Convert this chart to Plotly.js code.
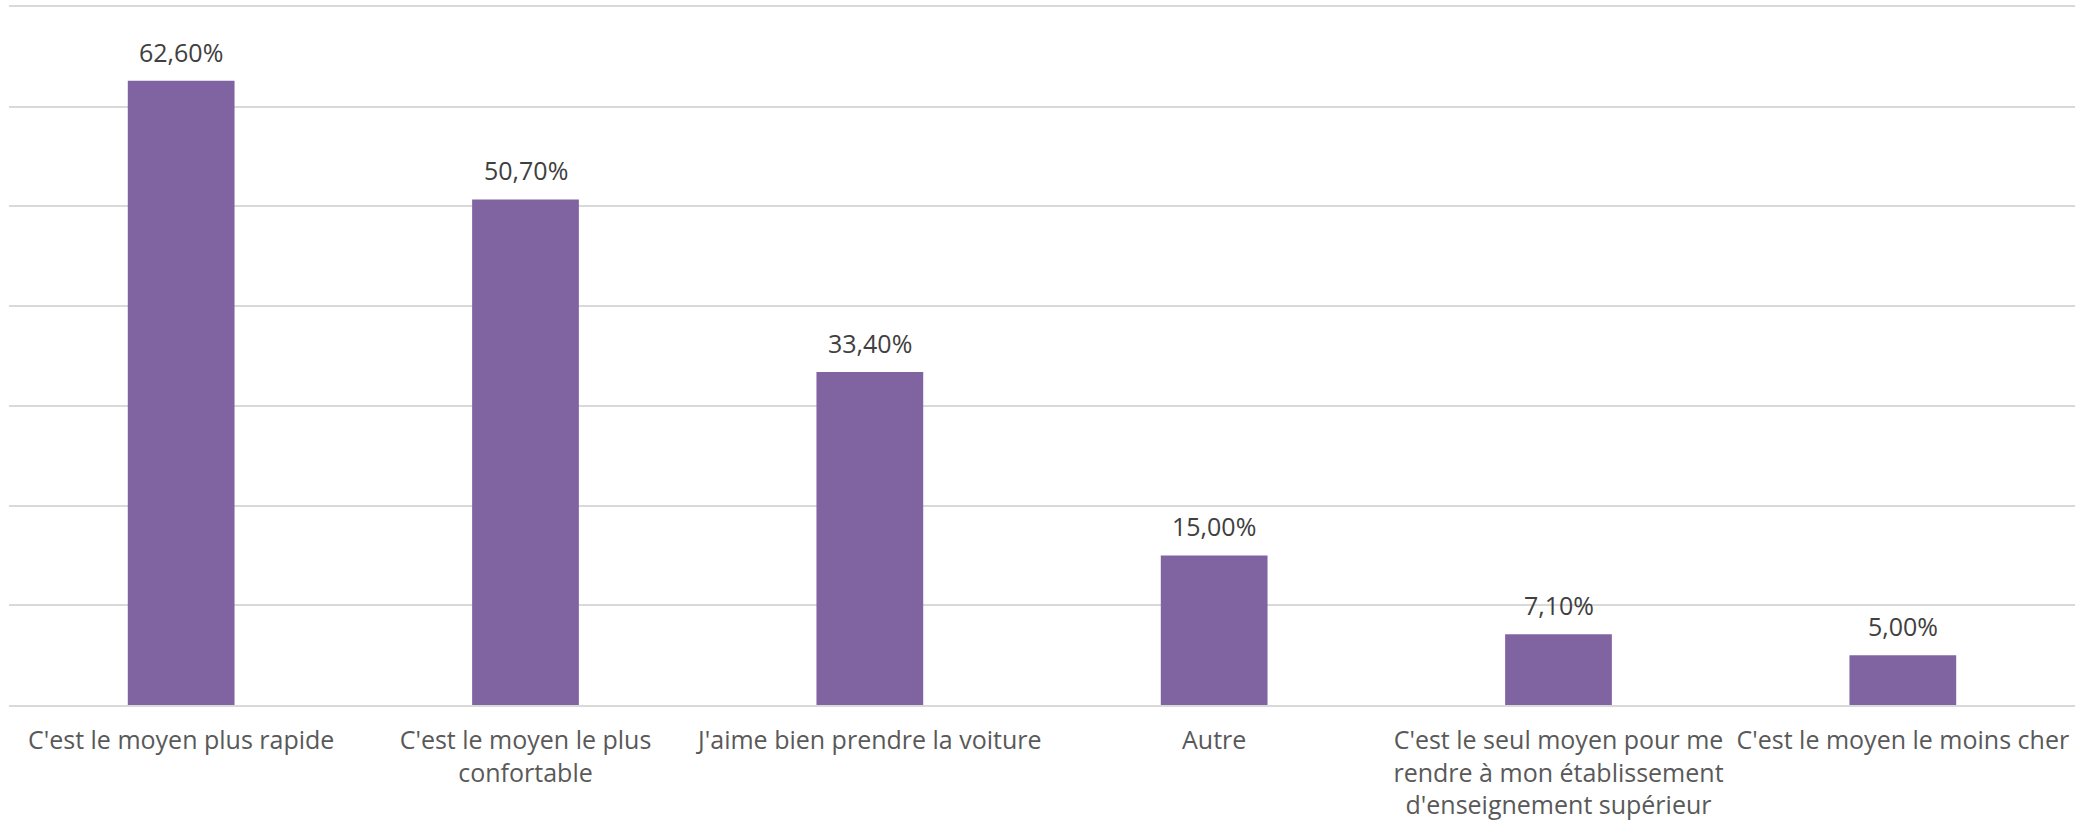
<!DOCTYPE html>
<html>
<head>
<meta charset="utf-8">
<script src="https://cdn.plot.ly/plotly-3.0.1.min.js"></script>
<style>html,body{margin:0;padding:0;background:#fff;}#chart{width:2091px;height:824px;}</style>
</head>
<body>
<div id="chart"></div>
<script>
const categories = [
  "C'est le moyen plus rapide",
  "C'est le moyen le plus<br>confortable",
  "J'aime bien prendre la voiture",
  "Autre",
  "C'est le seul moyen pour me<br>rendre à mon établissement<br>d'enseignement supérieur",
  "C'est le moyen le moins cher"
];
const values = [62.6, 50.7, 33.4, 15.0, 7.1, 5.0];
const valueLabels = ["62,60%", "50,70%", "33,40%", "15,00%", "7,10%", "5,00%"];

const FONT = "Open Sans, sans-serif";
const TEXT_COLOR = "#595959";

const trace = {
  type: "bar",
  x: categories,
  y: values,
  marker: {color: "#8064a2"},
  hoverinfo: "skip"
};

const annotations = categories.map((c, i) => ({
  x: c, y: values[i], xref: "x", yref: "y",
  text: valueLabels[i], showarrow: false,
  yanchor: "bottom", yshift: 10,
  font: {family: FONT, size: 25, color: "#404040"}
}));

const layout = {
  width: 2091, height: 824,
  margin: {l: 9, r: 16, t: 7, b: 119},
  paper_bgcolor: "#ffffff", plot_bgcolor: "#ffffff",
  showlegend: false,
  bargap: 0.69,
  xaxis: {
    type: "category",
    showline: true,
    mirror: true,
    linecolor: "#d9d9d9",
    linewidth: 2,
    ticks: "",
    ticklabelstandoff: 12,
    tickfont: {family: FONT, size: 25, color: TEXT_COLOR},
    showgrid: false
  },
  yaxis: {
    range: [0, 70],
    dtick: 10,
    showticklabels: false,
    gridcolor: "#d9d9d9",
    gridwidth: 2,
    zeroline: false,
    fixedrange: true
  },
  annotations: annotations
};

Plotly.newPlot("chart", [trace], layout, {displayModeBar: false, staticPlot: true});
</script>
</body>
</html>
